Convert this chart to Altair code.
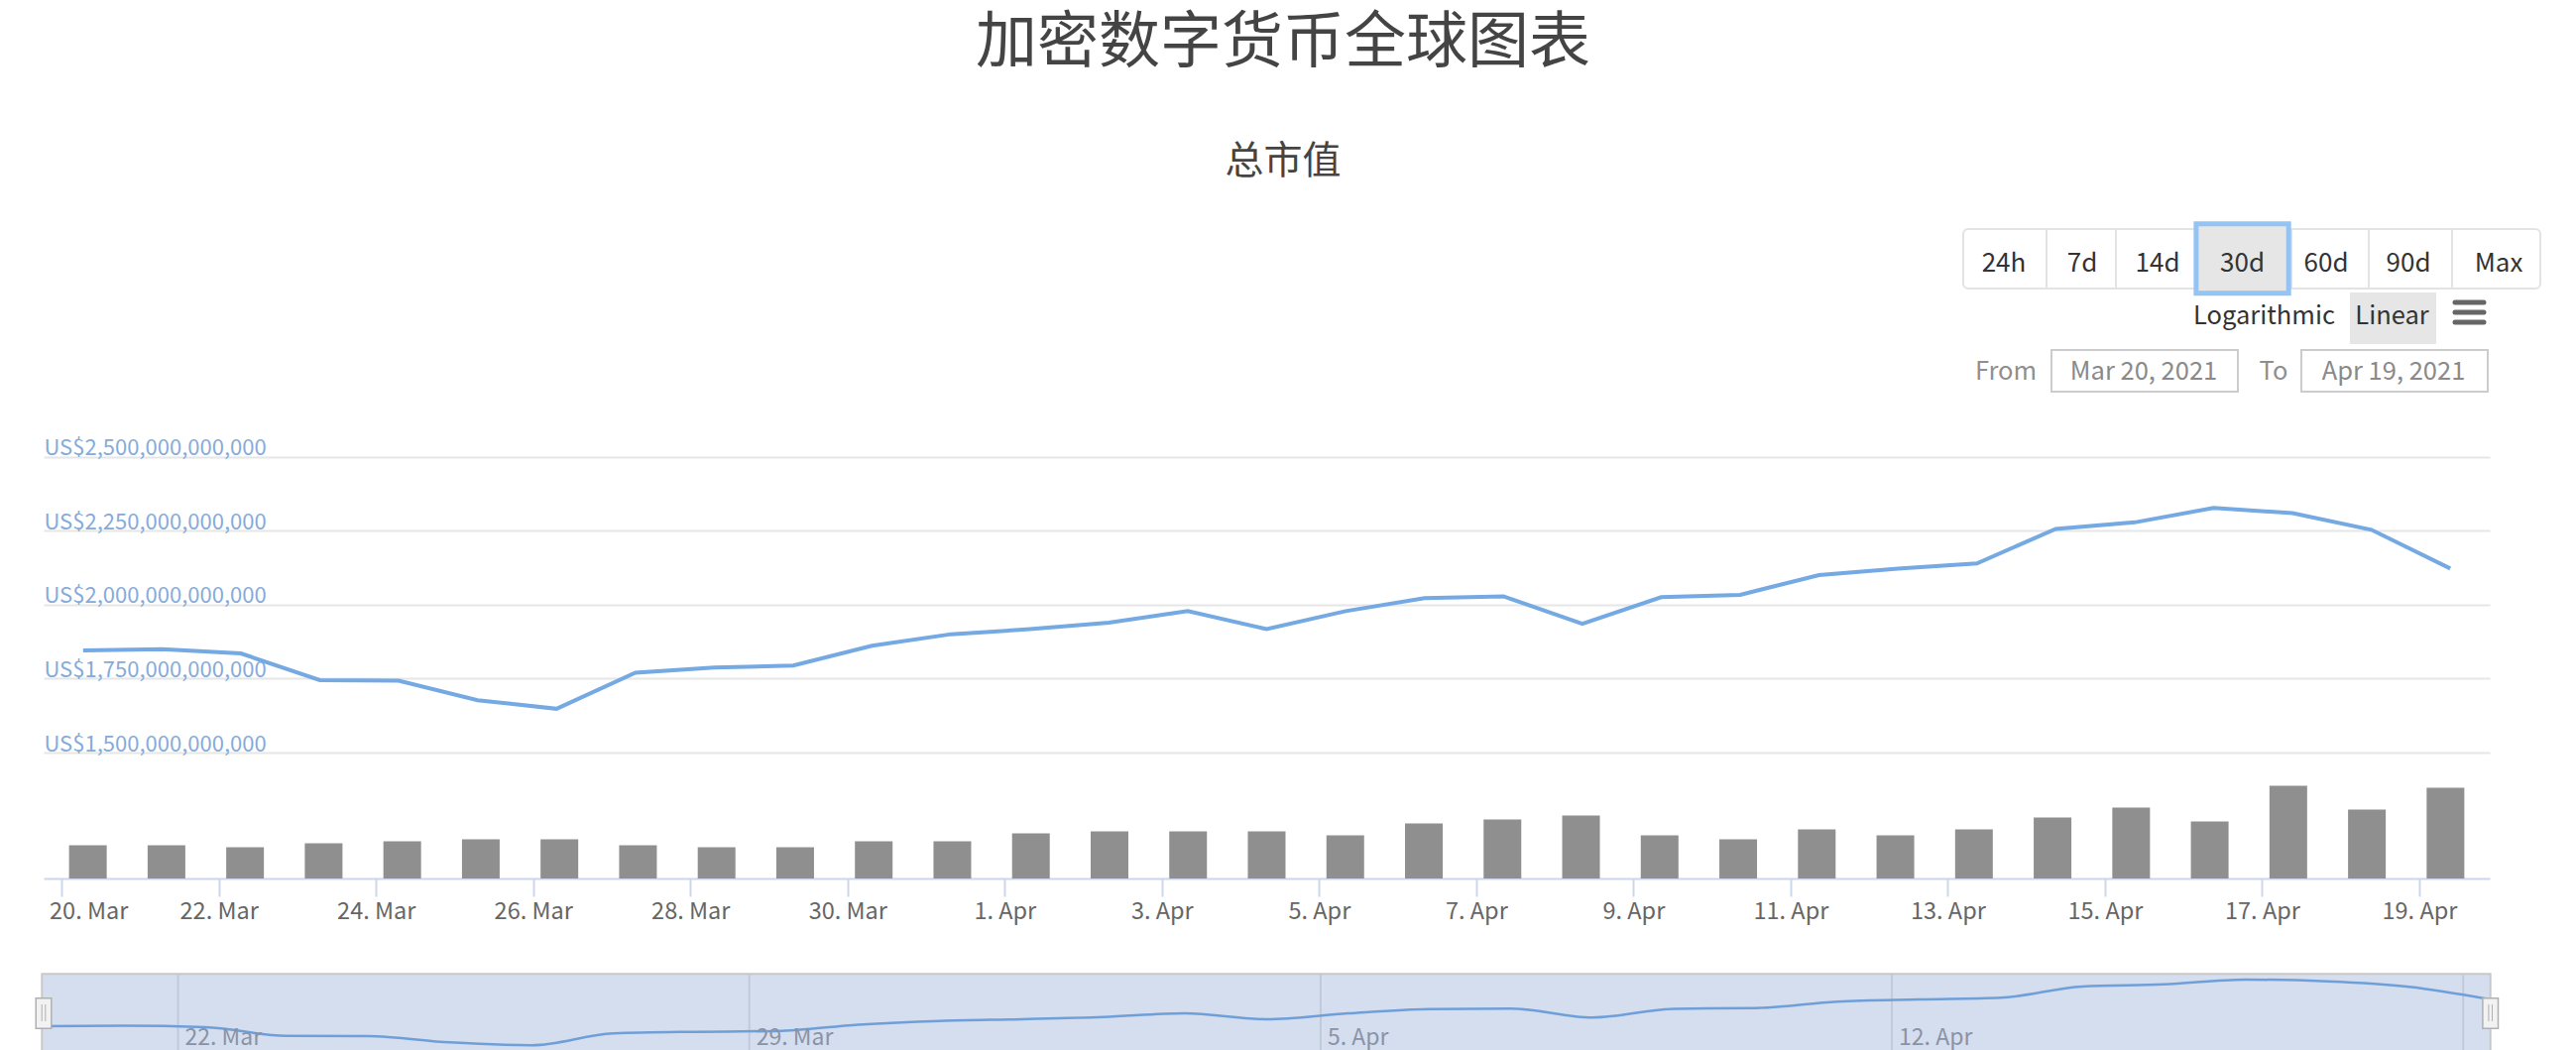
import altair as alt
import pandas as pd

FONT = "Noto Sans CJK SC"

# ---------------- data ----------------
dates = pd.date_range("2021-03-20 08:00", "2021-04-19 08:00", freq="D", tz="UTC")
date_strs = [d.strftime("%Y-%m-%dT%H:%M:%SZ") for d in dates]

# total market cap in trillions of US$
market_cap_t = [1.845, 1.849, 1.835, 1.745, 1.743, 1.677, 1.648, 1.770, 1.787, 1.794,
                1.861, 1.900, 1.917, 1.939, 1.978, 1.917, 1.978, 2.022, 2.028, 1.935,
                2.025, 2.033, 2.100, 2.122, 2.139, 2.256, 2.278, 2.327, 2.309, 2.253, 2.122]
# total volume in billions of US$
volume_b = [67, 67, 63, 71, 75, 79, 79, 67, 63, 63, 75, 75, 91, 95, 95, 95, 87, 111,
            119, 127, 87, 79, 99, 87, 99, 123, 143, 115, 187, 139, 183]

y_ticks_t = [1.5, 1.75, 2.0, 2.25, 2.5]
x_tick_dates = ["2021-03-20", "2021-03-22", "2021-03-24", "2021-03-26", "2021-03-28",
                "2021-03-30", "2021-04-01", "2021-04-03", "2021-04-05", "2021-04-07",
                "2021-04-09", "2021-04-11", "2021-04-13", "2021-04-15", "2021-04-17",
                "2021-04-19"]
nav_tick_dates = ["2021-03-22", "2021-03-29", "2021-04-05", "2021-04-12", "2021-04-19"]
nav_tick_labels = ["22. Mar", "29. Mar", "5. Apr", "12. Apr", ""]
range_buttons = ["24h", "7d", "14d", "30d", "60d", "90d", "Max"]

df = pd.DataFrame({
    "date": date_strs,
    "cap": [v * 1e12 for v in market_cap_t],
    "vol": [v * 1e9 for v in volume_b],
})
nav_df = pd.DataFrame({
    "date": [d + "T00:00:00Z" for d in nav_tick_dates],
    "label": nav_tick_labels,
})
one = pd.DataFrame({"k": [0]})


def ms(s):
    return int(pd.Timestamp(s).value // 10**6)


x_tick_ms = [ms(d + "T00:00:00Z") for d in x_tick_dates]
first_ms = ms(date_strs[0])
last_ms = ms(date_strs[-1])
half_day = 12 * 3600 * 1000

W, H = 2467, 426
LINE = "#74a9e3"

main_x_scale = alt.Scale(type="utc", domain=[first_ms - half_day, last_ms + half_day], nice=False)
nav_x_scale = alt.Scale(type="utc", domain=[first_ms, last_ms], range=[-1.7, 2467.7], nice=False)

# ---------------- main panes ----------------
bars = alt.Chart(df).mark_bar(size=38, color="#8f8f8f").encode(
    x=alt.X("date:T", scale=main_x_scale, axis=alt.Axis(
        values=x_tick_ms, format="%-d. %b", grid=False, title=None,
        domainColor="#ccd6eb", domainWidth=2, tickColor="#ccd6eb", tickWidth=2,
        tickSize=18, labelFont=FONT, labelFontSize=23.5, labelColor="#666666",
        labelPadding=3, labelOverlap=False, labelFlush=False,
        labelOffset={"condition": {"test": f"time(datum.value) == {x_tick_ms[0]}", "value": 27}, "value": 0},
    )),
    y=alt.Y("vol:Q", scale=alt.Scale(domain=[0, 250e9], range=[H, H - 125], nice=False), axis=None),
)

line = alt.Chart(df).mark_line(color=LINE, strokeWidth=4).encode(
    x=alt.X("date:T", scale=main_x_scale, axis=None),
    y=alt.Y("cap:Q", scale=alt.Scale(domain=[1.5e12, 2.5e12], range=[299, 0.6], zero=False, nice=False),
            axis=alt.Axis(values=[v * 1e12 for v in y_ticks_t],
                          labelExpr="'US$' + format(datum.value, ',.0f')",
                          grid=True, gridColor="#e6e6e6", gridWidth=2, domain=False,
                          ticks=False, tickSize=0, labelAlign="left", labelBaseline="alphabetic",
                          labelPadding=0, labelOffset=-2, labelFont=FONT, labelFontSize=22,
                          labelLimit=0, labelColor="#86abd9", title=None)),
)

# ---------------- navigator ----------------
nav_mask = alt.Chart(one).mark_rect(fill="#d5deef", stroke="#c8c8c8", strokeWidth=2).encode(
    x=alt.value(-1.7), x2=alt.value(2467.7), y=alt.value(522.3), y2=alt.value(640))

nav_grid = alt.Chart(nav_df).mark_rule(color="#c2c9da", strokeWidth=2).encode(
    x=alt.X("date:T", scale=nav_x_scale, axis=None), y=alt.value(523), y2=alt.value(640))

nav_labels = alt.Chart(nav_df).mark_text(
    align="left", baseline="alphabetic", dx=7, font=FONT, fontSize=23, color="#8a93a5").encode(
    x=alt.X("date:T", scale=nav_x_scale, axis=None), y=alt.value(594), text="label:N")

nav_line = alt.Chart(df).mark_line(interpolate="monotone", color="#6f9fd8", strokeWidth=2.5).encode(
    x=alt.X("date:T", scale=nav_x_scale, axis=None),
    y=alt.Y("cap:Q", scale=alt.Scale(domain=[1.65e12, 2.327e12], range=[594, 528], zero=False, nice=False),
            axis=None),
)


def handle(cx):
    box = alt.Chart(one).mark_rect(fill="#f2f2f2", stroke="#b0b0b0", strokeWidth=1.5).encode(
        x=alt.value(cx - 7.8), x2=alt.value(cx + 7.8), y=alt.value(546.7), y2=alt.value(577.3))
    l1 = alt.Chart(one).mark_rule(color="#b0b0b0", strokeWidth=1).encode(
        x=alt.value(cx - 1.8), y=alt.value(553), y2=alt.value(570))
    l2 = alt.Chart(one).mark_rule(color="#b0b0b0", strokeWidth=1).encode(
        x=alt.value(cx + 1.8), y=alt.value(553), y2=alt.value(570))
    return [box, l1, l2]


# ---------------- page decorations ----------------
def text(t, x, y, size, color, align="center", baseline="alphabetic"):
    return alt.Chart(one).mark_text(text=t, font=FONT, fontSize=size, color=color,
                                    align=align, baseline=baseline).encode(
        x=alt.value(x), y=alt.value(y))


def rect(x, x2, y, y2, fill, stroke=None, sw=0, r=0):
    kw = dict(fill=fill, cornerRadius=r)
    if stroke:
        kw.update(stroke=stroke, strokeWidth=sw)
    return alt.Chart(one).mark_rect(**kw).encode(
        x=alt.value(x), x2=alt.value(x2), y=alt.value(y), y2=alt.value(y2))


def vrule(x, y, y2, color, sw):
    return alt.Chart(one).mark_rule(color=color, strokeWidth=sw).encode(
        x=alt.value(x), y=alt.value(y), y2=alt.value(y2))


def hrule(x, x2, y, color, sw):
    return alt.Chart(one).mark_rule(color=color, strokeWidth=sw, strokeCap="round").encode(
        x=alt.value(x), x2=alt.value(x2), y=alt.value(y))


deco = []
deco.append(text("加密数字货币全球图表", 1250, -397.5, 62, "#444444"))
deco.append(text("总市值", 1250, -285.5, 39, "#444444"))

# range selector group
deco.append(rect(1936, 2518, -229, -169, "#ffffff", "#e3e3e3", 2, 5))
for xd in [2020, 2090, 2267, 2345, 2429]:
    deco.append(vrule(xd, -228, -170, "#e3e3e3", 2))
deco.append(rect(2170.9, 2264.2, -234.2, -164.2, "#e6e6e6", "#94c4f4", 5))
btn_x = [1977, 2056, 2132, 2217.5, 2302, 2385, 2476]
for lab, bx in zip(range_buttons, btn_x):
    deco.append(text(lab, bx, -186, 26, "#333333"))

# scale switch + menu
deco.append(rect(2326, 2413, -165, -113, "#e6e6e6"))
deco.append(text("Logarithmic", 2239.5, -133, 25.5, "#333333"))
deco.append(text("Linear", 2368.5, -133, 25.5, "#333333"))
for yy in [-155, -145, -135]:
    deco.append(hrule(2432, 2461, yy, "#666666", 5))

# date inputs
deco.append(text("From", 1979, -77.5, 25.5, "#8f8f8f"))
deco.append(rect(2025, 2213, -107, -65, "#ffffff", "#cccccc", 2))
deco.append(text("Mar 20, 2021", 2118, -77.5, 25.5, "#8a8a8a"))
deco.append(text("To", 2249, -77.5, 25.5, "#8f8f8f"))
deco.append(rect(2277, 2465, -107, -65, "#ffffff", "#cccccc", 2))
deco.append(text("Apr 19, 2021", 2370, -77.5, 25.5, "#8a8a8a"))

layers = [nav_mask, nav_grid, nav_line, nav_labels] + handle(0) + handle(2467.7) + \
         [bars, line] + deco

chart = alt.layer(*layers).resolve_scale(x="independent", y="independent").properties(
    width=W, height=H,
    autosize=alt.AutoSizeParams(type="none"),
    padding={"left": 36, "top": 452, "right": 70, "bottom": 173},
    background="#ffffff",
).configure_view(stroke=None)

chart.save("out.html", embed_options={"renderer": "svg", "actions": False})
